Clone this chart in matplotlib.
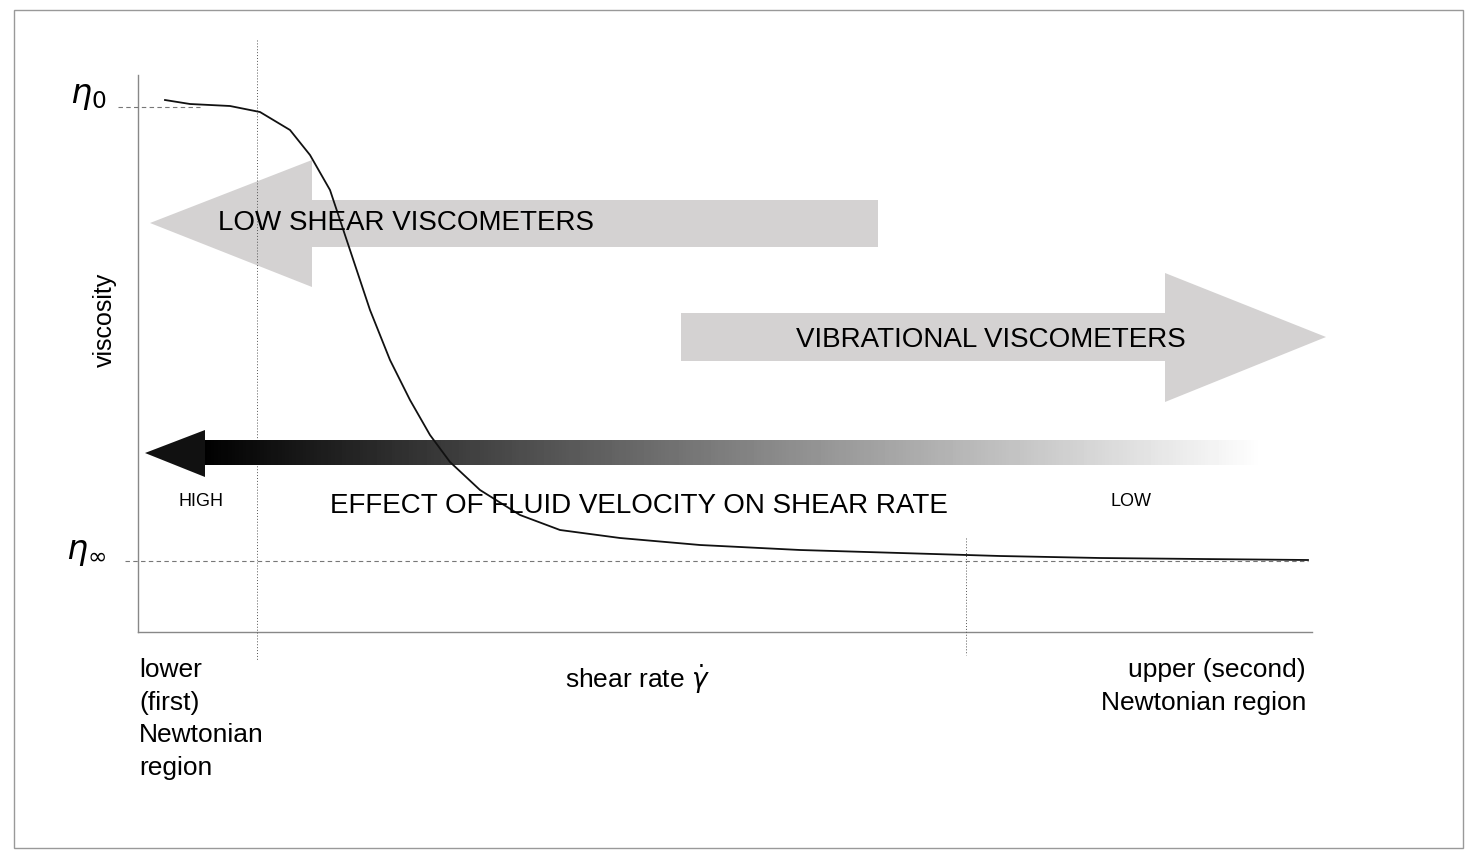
import numpy as np
import matplotlib.pyplot as plt
from matplotlib.patches import Polygon, Rectangle

# curve (pixel-space: x right, y down)
shear_px = [165, 190, 230, 260, 290, 310, 330, 350, 370, 390, 410, 430, 450,
            480, 520, 560, 620, 700, 800, 900, 1000, 1100, 1200, 1308]
visc_px = [100, 104, 106, 112, 130, 155, 190, 250, 310, 360, 400, 435, 462,
           490, 515, 530, 538, 545, 550, 553, 556, 558, 559, 560]

region_labels = ["lower\n(first)\nNewtonian\nregion", "upper (second)\nNewtonian region"]
arrow_labels = ["LOW SHEAR VISCOMETERS", "VIBRATIONAL VISCOMETERS",
                "EFFECT OF FLUID VELOCITY ON SHEAR RATE"]

plt.rcParams["font.family"] = "Liberation Sans"
fig = plt.figure(figsize=(14.75, 8.59), dpi=100)
ax = fig.add_axes([0, 0, 1, 1])
ax.set_xlim(0, 1475)
ax.set_ylim(859, 0)
ax.axis("off")

# outer frame
ax.add_patch(Rectangle((14, 10), 1449, 838, fill=False, ec="#999999", lw=1))

# axes lines
ax.plot([138, 138], [75, 632], color="#888888", lw=1)
ax.plot([138, 1312], [632, 632], color="#888888", lw=1)

# reference lines
ax.plot([257, 257], [40, 660], color="#555555", lw=0.7, ls=(0, (1, 2)))
ax.plot([966, 966], [538, 655], color="#555555", lw=0.7, ls=(0, (1, 2)))
ax.plot([118, 200], [107, 107], color="#777777", lw=0.8, ls=(0, (4, 3)))
ax.plot([125, 1308], [561, 561], color="#777777", lw=0.8, ls=(0, (4, 3)))

grey = "#d4d2d2"
# low shear arrow (pointing left)
ax.add_patch(Polygon([[878, 200], [312, 200], [312, 160], [150, 223],
                      [312, 287], [312, 247], [878, 247]], closed=True,
                     fc=grey, ec="none"))
# vibrational arrow (pointing right)
ax.add_patch(Polygon([[681, 313], [1165, 313], [1165, 273], [1326, 337],
                      [1165, 402], [1165, 361], [681, 361]], closed=True,
                     fc=grey, ec="none"))

# gradient arrow
grad = np.linspace(0, 1, 300).reshape(1, -1)
ax.imshow(grad, extent=(200, 1265, 465, 440), cmap="gray", vmin=0, vmax=1,
          aspect="auto", zorder=2)
ax.add_patch(Polygon([[205, 430], [145, 453], [205, 477]], closed=True,
                     fc="#111111", ec="none", zorder=2))

# viscosity curve
ax.plot(shear_px, visc_px, color="#111111", lw=1.3, zorder=3)

# text
ax.text(218, 223, arrow_labels[0], fontsize=20, va="center", ha="left")
ax.text(796, 340, arrow_labels[1], fontsize=20, va="center", ha="left")
ax.text(330, 506, arrow_labels[2], fontsize=20, va="center", ha="left")
ax.text(178, 502, "HIGH", fontsize=13, va="center")
ax.text(1110, 502, "LOW", fontsize=13, va="center")

ax.text(70, 97, r"$\eta_0$", fontsize=24, va="center", fontweight="bold")
ax.text(66, 552, r"$\eta_\infty$", fontsize=24, va="center", fontweight="bold")
ax.text(105, 320, "viscosity", fontsize=18, rotation=90, va="center", ha="center")

ax.text(139, 658, region_labels[0], fontsize=19, va="top", ha="left",
        linespacing=1.45)
ax.text(1306, 658, region_labels[1], fontsize=19, va="top", ha="right",
        linespacing=1.45)
ax.text(565, 679, r"shear rate $\dot{\gamma}$", fontsize=19, va="center")

fig.savefig("out.png", dpi=100)
